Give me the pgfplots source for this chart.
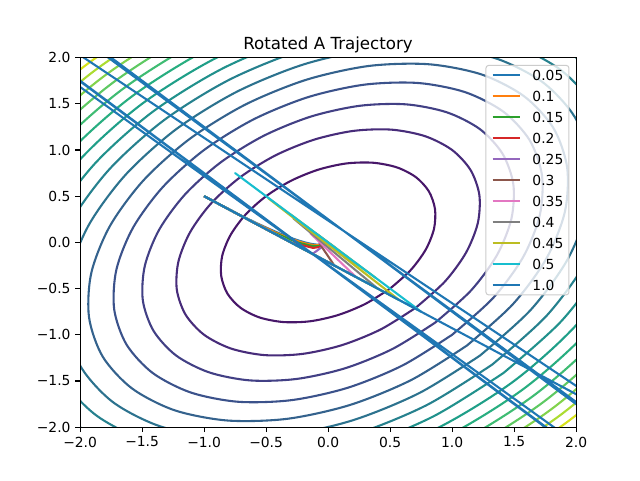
\documentclass[border=0pt]{standalone}
\usepackage{fontspec}
\setmainfont{DejaVu Sans}
\usepackage{pgfplots}
\pgfplotsset{compat=1.18}
\definecolor{c0}{HTML}{1F77B4}
\definecolor{c1}{HTML}{FF7F0E}
\definecolor{c2}{HTML}{2CA02C}
\definecolor{c3}{HTML}{D62728}
\definecolor{c4}{HTML}{9467BD}
\definecolor{c5}{HTML}{8C564B}
\definecolor{c6}{HTML}{E377C2}
\definecolor{c7}{HTML}{7F7F7F}
\definecolor{c8}{HTML}{BCBD22}
\definecolor{c9}{HTML}{17BECF}
\definecolor{v1}{HTML}{471769}
\definecolor{v2}{HTML}{472C7A}
\definecolor{v3}{HTML}{424085}
\definecolor{v4}{HTML}{3B528B}
\definecolor{v5}{HTML}{34628D}
\definecolor{v6}{HTML}{2C728E}
\definecolor{v7}{HTML}{26818E}
\definecolor{v8}{HTML}{21918C}
\definecolor{v9}{HTML}{1F9F88}
\definecolor{v10}{HTML}{28AE80}
\definecolor{v11}{HTML}{3FBC73}
\definecolor{v12}{HTML}{5EC962}
\definecolor{v13}{HTML}{82D34C}
\definecolor{v14}{HTML}{ACDC31}
\definecolor{v15}{HTML}{D7E21B}
\begin{document}
\begin{tikzpicture}
\path[use as bounding box, fill=white] (-60pt,-39.6pt) rectangle (420pt,320.4pt);
\begin{axis}[
  at={(0pt,0pt)}, anchor=south west,
  scale only axis, width=372pt, height=277.2pt,
  xmin=-2, xmax=2, ymin=-2, ymax=2,
  axis on top,
  tick align=outside,
  major tick length=3.65pt,
  every tick/.style={black, line width=0.83pt},
  axis line style={line width=0.83pt},
  xtick pos=bottom, ytick pos=left,
  xtick={-2,-1.5,-1,-0.5,0,0.5,1,1.5,2},
  xticklabels={−2.0,−1.5,−1.0,−0.5,0.0,0.5,1.0,1.5,2.0},
  ytick={-2,-1.5,-1,-0.5,0,0.5,1,1.5,2},
  yticklabels={−2.0,−1.5,−1.0,−0.5,0.0,0.5,1.0,1.5,2.0},
  ticklabel style={font=\fontsize{10.4}{12}\selectfont},
  title={Rotated A Trajectory},
  every axis title/.style={at={(0.5,1)}, anchor=base, yshift=6.25pt, font=\fontsize{12.5}{15}\selectfont},
  every axis plot/.append style={line width=1.56pt, line join=round},
  legend style={at={(1,1)}, anchor=north east, xshift=-5pt, yshift=-5.5pt,
    draw=black!20, line width=0.75pt, rounded corners=2pt, fill=white, fill opacity=0.8,
    text opacity=1, draw opacity=1,
    font=\fontsize{10.4}{12}\selectfont,
    inner xsep=4.2pt, inner ysep=3.5pt, row sep=8.15pt, column sep=8.3pt,
    nodes={inner xsep=0pt, inner ysep=0pt, text height=7.6pt, text depth=0pt}},
  legend cell align=left,
  legend image code/.code={\draw[#1, rounded corners=0pt] (0pt,0pt) -- (20.8pt,0pt);},
]
% contour levels f = 1..15
\addplot[forget plot, smooth, v1] coordinates {(.500,-.500)(.300,-.666)(.079,-.787)(-.146,-.854)(-.362,-.862)(-.554,-.812)(-.707,-.707)(-.812,-.554)(-.862,-.362)(-.854,-.146)(-.787,.079)(-.666,.300)(-.500,.500)(-.300,.666)(-.079,.787)(.146,.854)(.362,.862)(.554,.812)(.707,.707)(.812,.554)(.862,.362)(.854,.146)(.787,-.079)(.666,-.300)(.500,-.500)};
\addplot[forget plot, smooth, v2] coordinates {(.707,-.707)(.424,-.942)(.112,-1.112)(-.207,-1.207)(-.512,-1.220)(-.783,-1.149)(-1,-1)(-1.149,-.783)(-1.220,-.512)(-1.207,-.207)(-1.112,.112)(-.942,.424)(-.707,.707)(-.424,.942)(-.112,1.112)(.207,1.207)(.512,1.220)(.783,1.149)(1,1)(1.149,.783)(1.220,.512)(1.207,.207)(1.112,-.112)(.942,-.424)(.707,-.707)};
\addplot[forget plot, smooth, v3] coordinates {(.866,-.866)(.520,-1.153)(.138,-1.362)(-.254,-1.478)(-.628,-1.494)(-.959,-1.407)(-1.225,-1.225)(-1.407,-.959)(-1.494,-.628)(-1.478,-.254)(-1.362,.138)(-1.153,.520)(-.866,.866)(-.520,1.153)(-.138,1.362)(.254,1.478)(.628,1.494)(.959,1.407)(1.225,1.225)(1.407,.959)(1.494,.628)(1.478,.254)(1.362,-.138)(1.153,-.520)(.866,-.866)};
\addplot[forget plot, smooth, v4] coordinates {(1,-1)(.600,-1.332)(.159,-1.573)(-.293,-1.707)(-.725,-1.725)(-1.107,-1.625)(-1.414,-1.414)(-1.625,-1.107)(-1.725,-.725)(-1.707,-.293)(-1.573,.159)(-1.332,.600)(-1,1)(-.600,1.332)(-.159,1.573)(.293,1.707)(.725,1.725)(1.107,1.625)(1.414,1.414)(1.625,1.107)(1.725,.725)(1.707,.293)(1.573,-.159)(1.332,-.600)(1,-1)};
\addplot[forget plot, smooth, v5] coordinates {(1.118,-1.118)(.671,-1.489)(.178,-1.759)(-.327,-1.909)(-.810,-1.928)(-1.238,-1.817)(-1.581,-1.581)(-1.817,-1.238)(-1.928,-.810)(-1.909,-.327)(-1.759,.178)(-1.489,.671)(-1.118,1.118)(-.671,1.489)(-.178,1.759)(.327,1.909)(.810,1.928)(1.238,1.817)(1.581,1.581)(1.817,1.238)(1.928,.810)(1.909,.327)(1.759,-.178)(1.489,-.671)(1.118,-1.118)};
\addplot[forget plot, smooth, v6] coordinates {(1.225,-1.225)(.735,-1.631)(.195,-1.927)(-.359,-2.091)(-.888,-2.112)(-1.356,-1.990)(-1.732,-1.732)(-1.990,-1.356)(-2.112,-.888)(-2.091,-.359)(-1.927,.195)(-1.631,.735)(-1.225,1.225)(-.735,1.631)(-.195,1.927)(.359,2.091)(.888,2.112)(1.356,1.990)(1.732,1.732)(1.990,1.356)(2.112,.888)(2.091,.359)(1.927,-.195)(1.631,-.735)(1.225,-1.225)};
\addplot[forget plot, smooth, v7] coordinates {(1.323,-1.323)(.794,-1.762)(.210,-2.081)(-.387,-2.258)(-.959,-2.282)(-1.465,-2.149)(-1.871,-1.871)(-2.149,-1.465)(-2.282,-.959)(-2.258,-.387)(-2.081,.210)(-1.762,.794)(-1.323,1.323)(-.794,1.762)(-.210,2.081)(.387,2.258)(.959,2.282)(1.465,2.149)(1.871,1.871)(2.149,1.465)(2.282,.959)(2.258,.387)(2.081,-.210)(1.762,-.794)(1.323,-1.323)};
\addplot[forget plot, smooth, v8] coordinates {(1.414,-1.414)(.848,-1.884)(.225,-2.225)(-.414,-2.414)(-1.025,-2.439)(-1.566,-2.298)(-2,-2)(-2.298,-1.566)(-2.439,-1.025)(-2.414,-.414)(-2.225,.225)(-1.884,.848)(-1.414,1.414)(-.848,1.884)(-.225,2.225)(.414,2.414)(1.025,2.439)(1.566,2.298)(2,2)(2.298,1.566)(2.439,1.025)(2.414,.414)(2.225,-.225)(1.884,-.848)(1.414,-1.414)};
\addplot[forget plot, smooth, v9] coordinates {(2.121,2.121)(2.437,1.661)(2.587,1.087)(2.561,.439)(2.360,-.238)(1.998,-.900)(1.5,-1.5)(.900,-1.998)(.238,-2.360)(-.439,-2.561)(-1.087,-2.587)(-1.661,-2.437)(-2.121,-2.121)(-2.437,-1.661)(-2.587,-1.087)(-2.561,-.439)(-2.360,.238)(-1.998,.900)(-1.5,1.5)(-.900,1.998)(-.238,2.360)(.439,2.561)(1.087,2.587)(1.661,2.437)(2.121,2.121)};
\addplot[forget plot, smooth, v10] coordinates {(2.236,2.236)(2.569,1.751)(2.727,1.146)(2.699,.463)(2.487,-.251)(2.106,-.949)(1.581,-1.581)(.949,-2.106)(.251,-2.487)(-.463,-2.699)(-1.146,-2.727)(-1.751,-2.569)(-2.236,-2.236)(-2.569,-1.751)(-2.727,-1.146)(-2.699,-.463)(-2.487,.251)(-2.106,.949)(-1.581,1.581)(-.949,2.106)(-.251,2.487)(.463,2.699)(1.146,2.727)(1.751,2.569)(2.236,2.236)};
\addplot[forget plot, smooth, v11] coordinates {(2.345,2.345)(2.694,1.836)(2.860,1.202)(2.831,.486)(2.609,-.264)(2.209,-.995)(1.658,-1.658)(.995,-2.209)(.264,-2.609)(-.486,-2.831)(-1.202,-2.860)(-1.836,-2.694)(-2.345,-2.345)(-2.694,-1.836)(-2.860,-1.202)(-2.831,-.486)(-2.609,.264)(-2.209,.995)(-1.658,1.658)(-.995,2.209)(-.264,2.609)(.486,2.831)(1.202,2.860)(1.836,2.694)(2.345,2.345)};
\addplot[forget plot, smooth, v12] coordinates {(2.449,2.449)(2.814,1.918)(2.987,1.255)(2.957,.507)(2.725,-.275)(2.307,-1.039)(1.732,-1.732)(1.039,-2.307)(.275,-2.725)(-.507,-2.957)(-1.255,-2.987)(-1.918,-2.814)(-2.449,-2.449)(-2.814,-1.918)(-2.987,-1.255)(-2.957,-.507)(-2.725,.275)(-2.307,1.039)(-1.732,1.732)(-1.039,2.307)(-.275,2.725)(.507,2.957)(1.255,2.987)(1.918,2.814)(2.449,2.449)};
\addplot[forget plot, smooth, v13] coordinates {(2.550,2.550)(2.929,1.996)(3.109,1.307)(3.078,.528)(2.836,-.286)(2.401,-1.081)(1.803,-1.803)(1.081,-2.401)(.286,-2.836)(-.528,-3.078)(-1.307,-3.109)(-1.996,-2.929)(-2.550,-2.550)(-2.929,-1.996)(-3.109,-1.307)(-3.078,-.528)(-2.836,.286)(-2.401,1.081)(-1.803,1.803)(-1.081,2.401)(-.286,2.836)(.528,3.078)(1.307,3.109)(1.996,2.929)(2.550,2.550)};
\addplot[forget plot, smooth, v14] coordinates {(2.646,2.646)(3.040,2.071)(3.227,1.356)(3.194,.548)(2.943,-.297)(2.492,-1.122)(1.871,-1.871)(1.122,-2.492)(.297,-2.943)(-.548,-3.194)(-1.356,-3.227)(-2.071,-3.040)(-2.646,-2.646)(-3.040,-2.071)(-3.227,-1.356)(-3.194,-.548)(-2.943,.297)(-2.492,1.122)(-1.871,1.871)(-1.122,2.492)(-.297,2.943)(.548,3.194)(1.356,3.227)(2.071,3.040)(2.646,2.646)};
\addplot[forget plot, smooth, v15] coordinates {(2.739,2.739)(3.146,2.144)(3.340,1.403)(3.306,.567)(3.046,-.308)(2.579,-1.162)(1.936,-1.936)(1.162,-2.579)(.308,-3.046)(-.567,-3.306)(-1.403,-3.340)(-2.144,-3.146)(-2.739,-2.739)(-3.146,-2.144)(-3.340,-1.403)(-3.306,-.567)(-3.046,.308)(-2.579,1.162)(-1.936,1.936)(-1.162,2.579)(-.308,3.046)(.567,3.306)(1.403,3.340)(2.144,3.146)(2.739,2.739)};
% trajectories
\addplot[c0] coordinates {(-1,0.5)(-0.825,0.375)(-0.6825,0.2775)(-0.56625,0.20175)(-0.471225,0.143175)(-0.393383,0.098137)(-0.329468,0.063748)(-0.27686,0.037712)(-0.233446,0.018212)(-0.197518,0.003808)(-0.167701,-0.006639)(-0.142878,-0.014028)(-0.122147,-0.019067)(-0.104779,-0.022315)(-0.090177,-0.024207)(-0.077861,-0.025085)(-0.067437,-0.025215)(-0.058582,-0.024804)(-0.051035,-0.024013)(-0.04458,-0.022962)(-0.039041,-0.021747)};
\addlegendentry{0.05}
\addplot[c1] coordinates {(-1,0.5)(-0.65,0.25)(-0.43,0.11)(-0.29,0.034)(-0.1996,-0.0052)(-0.14024,-0.0236)(-0.100528,-0.030544)(-0.073424,-0.031434)(-0.05454,-0.029346)(-0.041112,-0.025996)(-0.031379,-0.022309)};
\addlegendentry{0.1}
\addplot[c2] coordinates {(-1,0.5)(-0.475,0.125)(-0.2425,-0.0025)(-0.13375,-0.03775)(-0.079225,-0.040825)(-0.049698,-0.034338)(-0.032484,-0.02634)};
\addlegendentry{0.15}
\addplot[c3] coordinates {(-1,0.5)(-0.3,0)(-0.12,-0.06)(-0.06,-0.048)(-0.0336,-0.0312)};
\addlegendentry{0.2}
\addplot[c4] coordinates {(-1,0.5)(-0.125,-0.125)(-0.0625,-0.0625)(-0.03125,-0.03125)};
\addlegendentry{0.25}
\addplot[c5] coordinates {(-1,0.5)(0.05,-0.25)(-0.07,-0.01)(-0.01,-0.022)};
\addlegendentry{0.3}
\addplot[c6] coordinates {(-1,0.5)(0.225,-0.375)(-0.1425,0.0975)(0.04125,-0.05475)(-0.021225,0.017175)(0.0070725,-0.0082875)};
\addlegendentry{0.35}
\addplot[c7] coordinates {(-1,0.5)(0.4,-0.5)(-0.28,0.26)(0.16,-0.164)(-0.0976,0.0968)(0.05824,-0.0584)(-0.035008,0.034976)(0.020992,-0.020998)(-0.012597,0.012597)};
\addlegendentry{0.4}
\addplot[c8] coordinates {(-1,0.5)(0.575,-0.625)(-0.4825,0.4775)(0.38375,-0.38425)(-0.307225,0.307175)(0.24576,-0.24576)(-0.196608,0.196608)(0.157286,-0.157286)(-0.125829,0.125829)(0.100663,-0.100663)(-0.080531,0.080531)(0.064425,-0.064425)(-0.05154,0.05154)(0.041232,-0.041232)(-0.032985,0.032985)(0.026388,-0.026388)(-0.021111,0.021111)(0.016889,-0.016889)};
\addlegendentry{0.45}
\addplot[c9] coordinates {(-1,0.5)(0.75,-0.75)(-0.75,0.75)(0.75,-0.75)(-0.75,0.75)(0.75,-0.75)};
\addlegendentry{0.5}
\addplot[c0] coordinates {(-1,0.5)(2.5,-2)(-7,6.5)(20.5,-20)(-61,60.5)(20,-20.167)(20,-19.72)(-20,20.22)(-20,19.74)(20,-20.24)(20,-19.75)(-20,20.25)(-20,19.75)(20,-20.25)};
\addlegendentry{1.0}
\end{axis}
\end{tikzpicture}
\end{document}
